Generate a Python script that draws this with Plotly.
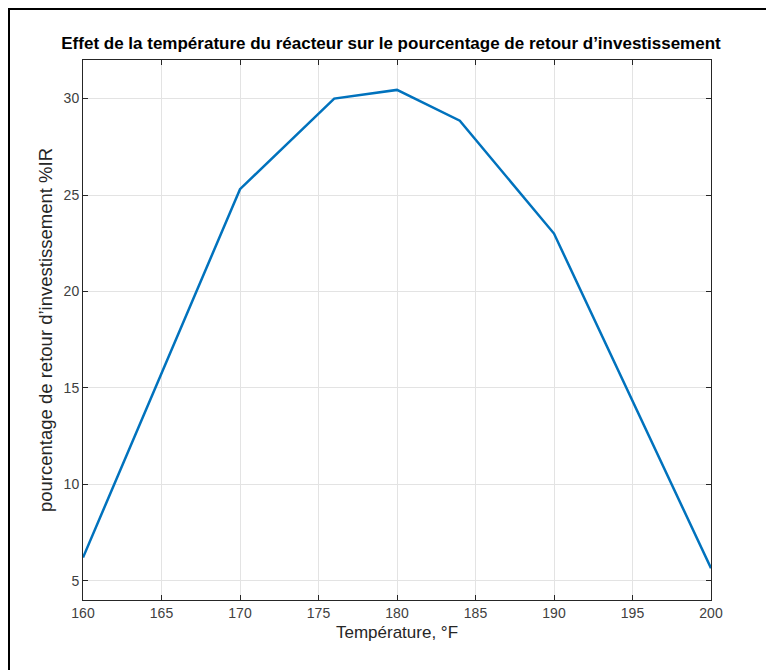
import plotly.graph_objects as go

temperature = [160, 170, 176, 180, 184, 190, 200]
pct_roi = [6.2, 25.3, 30.0, 30.45, 28.85, 23.0, 5.65]
x_ticks = [160, 165, 170, 175, 180, 185, 190, 195, 200]
y_ticks = [5, 10, 15, 20, 25, 30]

fig = go.Figure()
fig.add_trace(go.Scatter(x=temperature, y=pct_roi, mode="lines",
                         line=dict(color="#0072BD", width=2.5), showlegend=False))

# page has an 8px body offset; figure coordinates = page coordinates - 8
OFF = 8
W, H = 774 - OFF, 670 - OFF
L, T = 83 - OFF, 60 - OFF
pw, ph = 628, 540
R, B = W - L - pw, H - T - ph

def px(x):
    return (x - OFF - L) / pw

def py(y):
    return (H - B - (y - OFF)) / ph

axis_common = dict(showline=True, linecolor="#262626", linewidth=1, mirror="ticks",
                   ticks="inside", ticklen=5, tickcolor="#262626",
                   showgrid=True, gridcolor="#e3e3e3", gridwidth=1, zeroline=False,
                   tickfont=dict(family="Liberation Sans, Arial", size=14, color="#404040"))

fig.update_layout(
    width=W, height=H,
    margin=dict(l=L, r=R, t=T, b=B),
    paper_bgcolor="white", plot_bgcolor="white",
    title=dict(text="<b>Effet de la température du réacteur sur le pourcentage de retour d’investissement</b>",
               x=px(397), xanchor="center", y=1 - (43 - OFF) / H, yanchor="middle",
               font=dict(family="Liberation Sans, Arial", size=17, color="#000000")),
    xaxis=dict(range=[160, 200], tickvals=x_ticks,
               title=dict(text="Température, °F", standoff=6,
                          font=dict(family="Liberation Sans, Arial", size=17, color="#262626")),
               **axis_common),
    yaxis=dict(range=[4, 32], tickvals=y_ticks,
               title=dict(text="pourcentage de retour d’investissement %IR", standoff=6,
                          font=dict(family="Liberation Sans, Arial", size=18.5, color="#262626")),
               **axis_common),
    shapes=[
        dict(type="line", xref="paper", yref="paper", x0=px(7), x1=px(800), y0=py(8), y1=py(8),
             line=dict(color="black", width=4)),
        dict(type="line", xref="paper", yref="paper", x0=px(8), x1=px(8), y0=py(7), y1=py(700),
             line=dict(color="black", width=4)),
    ],
)

fig.write_html("out.html")
